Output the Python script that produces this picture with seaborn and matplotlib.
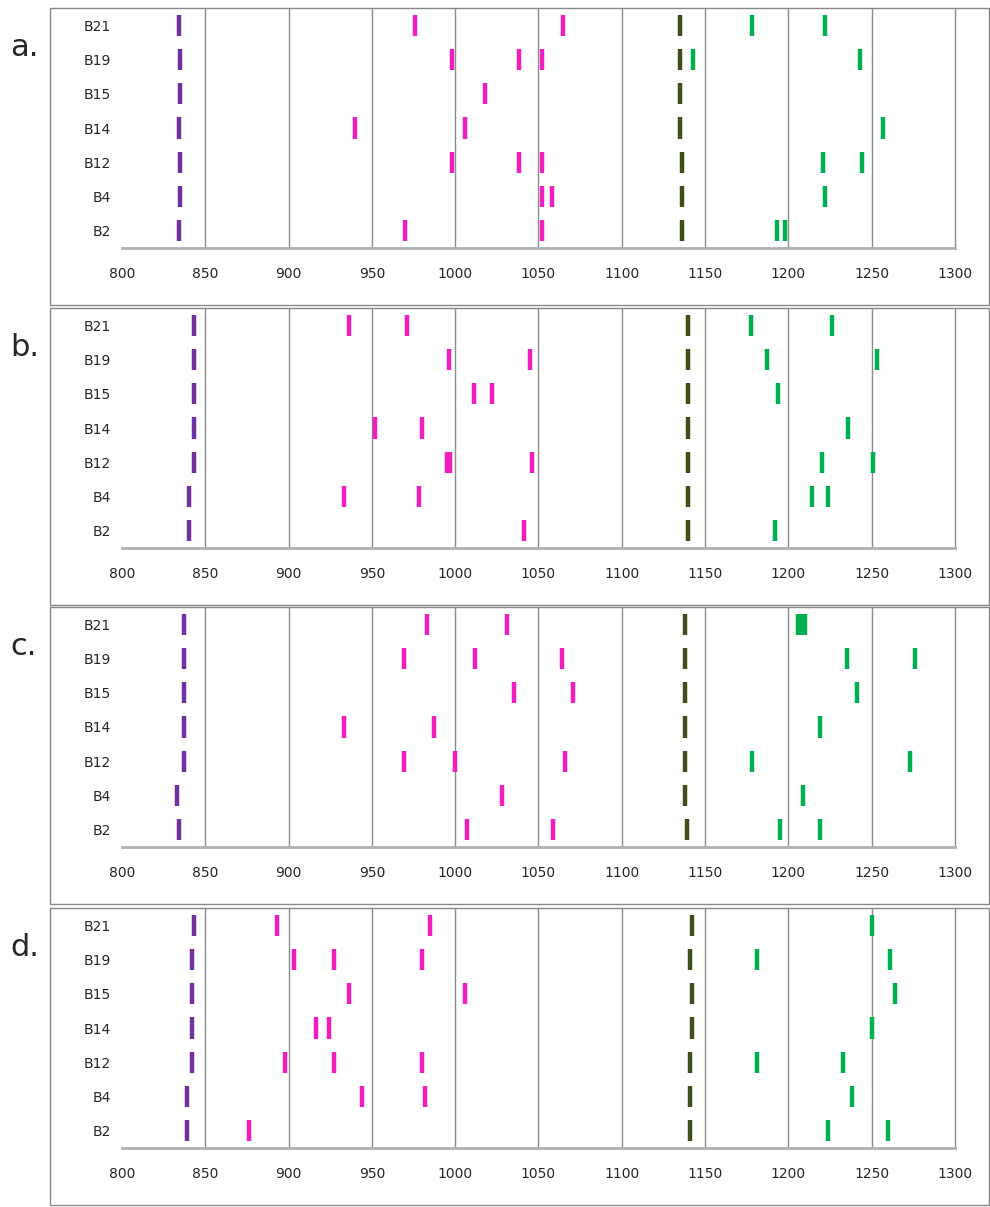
import matplotlib
matplotlib.use("Agg")
import matplotlib.pyplot as plt
import seaborn as sns
import pandas as pd
from matplotlib.patches import Rectangle

rows = ["B2", "B4", "B12", "B14", "B15", "B19", "B21"]
panels = ["a.", "b.", "c.", "d."]

# per panel, per row (B2 .. B21)
purple = {
    "a.": [834, 835, 835, 834, 835, 835, 834],
    "b.": [840, 840, 843, 843, 843, 843, 843.5],
    "c.": [834, 833, 837, 837, 837, 837, 837],
    "d.": [839, 839, 842, 842, 842, 842, 843],
}
magenta = {
    "a.": [[970, 1052], [1052, 1058], [998, 1038, 1052], [940, 1006], [1018], [998, 1038, 1052], [976, 1065]],
    "b.": [[1041], [933, 978], [995, 997, 1046], [952, 980], [1011, 1022], [996, 1045], [936, 971]],
    "c.": [[1007, 1059], [1028], [969, 1000, 1066], [933, 987], [1035, 1071], [969, 1012, 1064], [983, 1031]],
    "d.": [[876], [944, 982], [898, 927, 980], [916.5, 924.5], [936, 1006], [903, 927, 980], [893, 985]],
}
olive = {
    "a.": [1136, 1136, 1136, 1135, 1135, 1135, 1135],
    "b.": [1140, 1140, 1140, 1140, 1140, 1140, 1140],
    "c.": [1139, 1138, 1138, 1138, 1138, 1138, 1138],
    "d.": [1141, 1141, 1141, 1142, 1142, 1141, 1142],
}
green = {
    "a.": [[1193, 1198], [1222], [1221, 1244], [1257], [], [1143, 1243], [1178, 1222]],
    "b.": [[1192], [1214, 1224], [1220, 1251], [1236], [1193.5], [1187, 1253], [1177.5, 1226]],
    "c.": [[1195, 1219], [1209], [1178, 1273], [1219], [1241], [1235, 1276], [1206, 1208, 1210]],
    "d.": [[1224, 1260], [1238], [1181, 1233], [1250], [1264], [1181, 1261], [1250]],
}

colors = {"purple": "#7030A0", "magenta": "#F01EC0", "olive": "#3F4F1A", "green": "#00B050"}

recs = []
for p in panels:
    for i, r in enumerate(rows):
        recs.append((p, r, i, purple[p][i], "purple"))
        recs.append((p, r, i, olive[p][i], "olive"))
        for v in magenta[p][i]:
            recs.append((p, r, i, v, "magenta"))
        for v in green[p][i]:
            recs.append((p, r, i, v, "green"))
df = pd.DataFrame(recs, columns=["panel", "row", "pos", "wavelength", "group"])

sns.set_style("white")
fig = plt.figure(figsize=(9.9, 12.07), dpi=100)

tops = [8, 308, 607, 908]  # pixel top of plot area
H = 1207.0
for k, p in enumerate(panels):
    top = tops[k]
    ax = fig.add_axes([122 / 990, 1 - (top + 240) / H, 833 / 990, 240 / H])
    sub = df[df.panel == p]
    sns.scatterplot(data=sub, x="wavelength", y="pos", hue="group", palette=colors,
                    marker="|", s=230, linewidth=3.2, legend=False, ax=ax)
    ax.set_xlim(800, 1300)
    ax.set_ylim(-0.5, 6.5)
    ax.set_xticks(range(800, 1301, 50))
    ax.set_yticks(range(7))
    ax.set_yticklabels(rows, fontsize=10, family="DejaVu Sans Condensed")
    ax.set_yticks([i - 0.5 for i in range(8)], minor=True)
    ax.tick_params(axis="y", which="major", length=0, pad=8)
    ax.tick_params(axis="y", which="minor", length=4, color="#999999", direction="out")
    ax.tick_params(axis="x", labelsize=10, length=0, pad=14)
    for t in ax.get_xticklabels():
        t.set_family("DejaVu Sans Condensed")
    ax.set_xlabel("")
    ax.set_ylabel("")
    ax.xaxis.grid(True, color="#8c8c8c", linewidth=1)
    ax.get_xgridlines()[0].set_visible(False)
    ax.get_xgridlines()[-1].set_visible(False)
    ax.axvline(1300, color="#8c8c8c", linewidth=1, clip_on=False)
    for s in ["top", "right", "left"]:
        ax.spines[s].set_visible(False)
    ax.spines["bottom"].set_color("#b0b0b0")
    ax.spines["bottom"].set_linewidth(2)
    fig.text(10 / 990, 1 - (top + 40) / H, p, fontsize=22, ha="left", va="center")
    # panel frame
    x0 = 50 / 990
    fig.patches.append(Rectangle((x0, 1 - (top + 297) / H), 1 - x0 - 1 / 990, 297 / H,
                                 transform=fig.transFigure, fill=False,
                                 edgecolor="#888888", linewidth=1))

fig.savefig("out.png", dpi=100)
